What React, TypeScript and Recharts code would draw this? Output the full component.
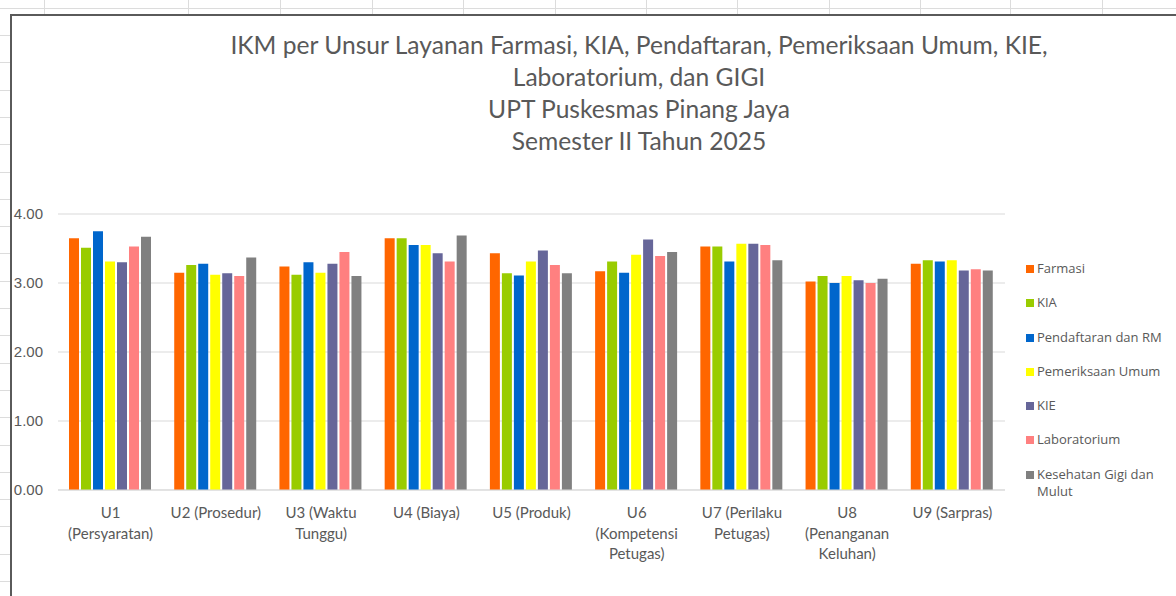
import React from "react";
import { BarChart, Bar, XAxis, YAxis, CartesianGrid, Legend } from "recharts";

// categories (line breaks follow the reference's wrapped tick labels)
const categories = [
  "U1\n(Persyaratan)",
  "U2 (Prosedur)",
  "U3 (Waktu\nTunggu)",
  "U4 (Biaya)",
  "U5 (Produk)",
  "U6\n(Kompetensi\nPetugas)",
  "U7 (Perilaku\nPetugas)",
  "U8\n(Penanganan\nKeluhan)",
  "U9 (Sarpras)",
];

const seriesNames = [
  "Farmasi",
  "KIA",
  "Pendaftaran dan RM",
  "Pemeriksaan Umum",
  "KIE",
  "Laboratorium",
  "Kesehatan Gigi dan Mulut",
];

const seriesColors = ["#FF6600", "#99CC00", "#0066CC", "#FFFF00", "#666699", "#FF8080", "#808080"];

const farmasi = [3.65, 3.15, 3.24, 3.65, 3.43, 3.17, 3.53, 3.02, 3.28];
const kia = [3.51, 3.26, 3.12, 3.65, 3.14, 3.31, 3.53, 3.1, 3.33];
const pendaftaran = [3.75, 3.28, 3.3, 3.55, 3.11, 3.15, 3.31, 3.0, 3.31];
const pemeriksaan = [3.31, 3.12, 3.15, 3.55, 3.31, 3.41, 3.57, 3.1, 3.33];
const kie = [3.3, 3.14, 3.28, 3.43, 3.47, 3.63, 3.57, 3.04, 3.18];
const laboratorium = [3.53, 3.1, 3.45, 3.31, 3.26, 3.39, 3.55, 3.0, 3.2];
const gigi = [3.67, 3.37, 3.1, 3.69, 3.14, 3.45, 3.33, 3.06, 3.18];

const yTicks = [0, 1, 2, 3, 4];

const titleLines = [
  "IKM per Unsur Layanan Farmasi, KIA, Pendaftaran, Pemeriksaan Umum, KIE,",
  "Laboratorium, dan GIGI",
  "UPT Puskesmas Pinang Jaya",
  "Semester II Tahun 2025",
];

const seriesValues = [farmasi, kia, pendaftaran, pemeriksaan, kie, laboratorium, gigi];
const keys = ["s0", "s1", "s2", "s3", "s4", "s5", "s6"];

const data = categories.map((name, i) => {
  const row: any = { name };
  keys.forEach((k, j) => {
    row[k] = seriesValues[j][i];
  });
  return row;
});

const TEXT = "#595959";

// spreadsheet grid behind the chart object
const colLines = [44, 188, 280, 372, 463, 555, 646, 737, 829, 920, 1010, 1102];
const rowLines = Array.from({ length: 22 }, (_, i) => Math.round(7.7 + i * 27.3));

const CategoryTick = ({ x, y, payload }: any) => {
  const lines = String(payload.value).split("\n");
  return (
    <text x={x} y={y} textAnchor="middle" fill={TEXT} fontFamily="Lato" fontSize={15}>
      {lines.map((l, i) => (
        <tspan key={i} x={x} dy={i === 0 ? 28 : 20.5}>
          {l}
        </tspan>
      ))}
    </text>
  );
};

// legend keeps the series order (Recharts would sort it by name)
const renderLegend = () => (
  <div style={{ width: 150, fontFamily: "'Open Sans'", fontSize: 13, color: TEXT }}>
    {seriesNames.map((name, j) => (
      <div key={name} style={{ display: "flex", alignItems: "flex-start", height: 34.3 }}>
        <span
          style={{
            width: 8,
            height: 8,
            background: seriesColors[j],
            marginTop: 5,
            marginRight: 3,
            flex: "none",
          }}
        />
        <span style={{ width: 132, lineHeight: "17px" }}>{name}</span>
      </div>
    ))}
  </div>
);

export default function App() {
  return (
    <div style={{ position: "fixed", left: 0, top: 0, width: 1176, height: 596, overflow: "hidden", background: "#fff" }}>
      {colLines.map((x) => (
        <div key={"c" + x} style={{ position: "absolute", left: x, top: 0, width: 1, height: 20, background: "#dcdcdc" }} />
      ))}
      {rowLines.map((y) => (
        <div key={"r" + y} style={{ position: "absolute", left: 0, top: y, width: 1176, height: 1, background: "#dcdcdc" }} />
      ))}
      <div
        style={{
          position: "absolute",
          left: 10,
          top: 14,
          width: 1300,
          height: 700,
          border: "2px solid #5a5a5a",
          background: "#fff",
        }}
      />
      <div style={{ position: "absolute", left: 0, top: 0 }}>
        <BarChart
          width={1176}
          height={596}
          data={data}
          margin={{ top: 214, right: 21, bottom: 76, left: 0 }}
          barCategoryGap={11}
          barGap={2}
        >
          <CartesianGrid vertical={false} stroke="#d9d9d9" />
          <XAxis
            dataKey="name"
            interval={0}
            height={30}
            tickLine={false}
            tickSize={0}
            tickMargin={0}
            axisLine={{ stroke: "#d9d9d9" }}
            tick={<CategoryTick />}
          />
          <YAxis
            domain={[0, 4]}
            ticks={yTicks}
            width={58}
            axisLine={false}
            tickLine={false}
            tickSize={0}
            tickMargin={15}
            tickFormatter={(v: number) => v.toFixed(2)}
            tick={{ fill: TEXT, fontSize: 15, fontFamily: "'Liberation Sans'" }}
          />
          <Legend
            layout="vertical"
            align="right"
            verticalAlign="top"
            width={150}
            wrapperStyle={{ top: 260, right: 0 }}
            content={renderLegend}
          />
          {keys.map((k, j) => (
            <Bar key={k} dataKey={k} name={seriesNames[j]} fill={seriesColors[j]} isAnimationActive={false} />
          ))}
        </BarChart>
      </div>
      <div
        style={{
          position: "absolute",
          left: 0,
          width: 1278,
          top: 29,
          textAlign: "center",
          fontFamily: "Lato",
          fontSize: 24.6,
          lineHeight: "32px",
          color: TEXT,
        }}
      >
        {titleLines.map((t) => (
          <div key={t}>{t}</div>
        ))}
      </div>
    </div>
  );
}
